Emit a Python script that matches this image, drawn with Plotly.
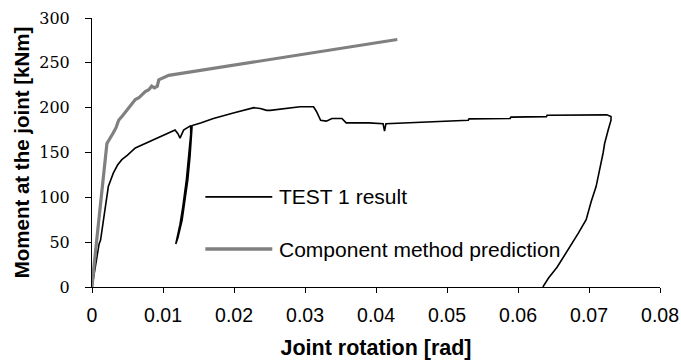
import plotly.graph_objects as go

# TEST 1 result (joint rotation [rad], moment [kNm])
test_rot = [0, 0.0005, 0.0010, 0.0012, 0.0016, 0.0020, 0.0023, 0.0030, 0.0036, 0.0042,
            0.0050, 0.0061, 0.0072, 0.0085, 0.0095, 0.0103, 0.0117, 0.0121, 0.0124, 0.0129,
            0.0135, 0.0139, 0.0139, 0.0137, 0.0133, 0.0128, 0.0124, 0.0118, 0.0121, 0.0127,
            0.0131, 0.0135, 0.0138, 0.0140, 0.0141, 0.0153, 0.0171, 0.0199, 0.0228, 0.0237,
            0.0246, 0.0251, 0.0272, 0.0293, 0.0312, 0.0316, 0.0322, 0.0330, 0.0338, 0.0352,
            0.0358, 0.0390, 0.0410, 0.0412, 0.0414, 0.0440, 0.0484, 0.0490, 0.0530, 0.0531,
            0.0589, 0.0590, 0.0640, 0.0641, 0.0700, 0.0715, 0.0725, 0.0731, 0.0731, 0.0727,
            0.0722, 0.0720, 0.0715, 0.0710, 0.0703, 0.0696, 0.0685, 0.0670, 0.0655, 0.0643,
            0.0635]
test_mom = [0, 25, 48, 52, 75, 95, 112, 127, 136, 142,
            147, 155, 159, 164, 167, 170, 175, 171, 166, 175,
            178, 180, 170, 150, 120, 90, 70, 48, 55, 75,
            95, 120, 145, 165, 180, 183, 188, 194, 200, 199,
            197, 197, 199, 201, 201, 196, 186, 185, 188, 188,
            183, 183, 182, 174, 182, 183, 184, 185, 186, 187.5,
            188, 189.5, 190, 191.5, 191.5, 192, 192, 190, 186, 175,
            160, 150, 130, 112, 95, 75, 60, 41, 22, 10,
            0]

# Component method prediction
comp_rot = [0, 0.0003, 0.0021, 0.0026, 0.0030, 0.0034, 0.00375, 0.0043, 0.0050, 0.0055,
            0.0061, 0.0066, 0.0070, 0.0075, 0.0080, 0.0084, 0.0088, 0.0092, 0.0094, 0.0100,
            0.0108, 0.0430]
comp_mom = [0, 25, 160, 166, 172, 178, 186, 191, 198, 203,
            209, 211, 214, 218, 220, 224, 222, 224, 231, 233,
            236, 276]

x_ticks = [0, 0.01, 0.02, 0.03, 0.04, 0.05, 0.06, 0.07, 0.08]
x_tick_text = ["0", "0.01", "0.02", "0.03", "0.04", "0.05", "0.06", "0.07", "0.08"]
y_ticks = [0, 50, 100, 150, 200, 250, 300]

series_names = ["TEST 1 result", "Component method prediction"]

SANS = "Liberation Sans, Arial, sans-serif"
SERIF = "DejaVu Serif"

fig = go.Figure()
fig.add_trace(go.Scatter(x=test_rot, y=test_mom, mode="lines", name=series_names[0],
                         line=dict(color="#000000", width=1.6), showlegend=False))
fig.add_trace(go.Scatter(x=comp_rot, y=comp_mom, mode="lines", name=series_names[1],
                         line=dict(color="#808080", width=3.2), showlegend=False))

# legend (keys drawn inside the plot area)
legend_rows = [(0.335, "#000000", 1.6), (0.141, "#808080", 3.4)]
for (yy, col, w), name in zip(legend_rows, series_names):
    fig.add_shape(type="line", xref="paper", yref="paper", x0=0.1995, x1=0.3174,
                  y0=yy, y1=yy, line=dict(color=col, width=w))
    fig.add_annotation(xref="paper", yref="paper", x=0.3257, y=yy, text=name,
                       showarrow=False, xanchor="left", yanchor="middle",
                       font=dict(family=SANS, size=21, color="#000"))

fig.update_layout(
    width=681, height=360,
    margin=dict(l=92, r=21, t=18, b=73, autoexpand=False),
    paper_bgcolor="white", plot_bgcolor="white",
    xaxis=dict(range=[0, 0.08], tickvals=x_ticks, ticktext=x_tick_text, automargin=False,
               showgrid=False, zeroline=False, showline=True, linecolor="black", linewidth=1,
               ticks="outside", ticklen=5, tickcolor="black", ticklabelstandoff=6,
               tickfont=dict(family=SANS, size=19.5, color="black"),
               title=dict(text="<b>Joint rotation [rad]</b>", standoff=16,
                          font=dict(family=SANS, size=21.5, color="black"))),
    yaxis=dict(range=[0, 300], tickvals=y_ticks, automargin=False,
               showgrid=False, zeroline=False, showline=True, linecolor="black", linewidth=1,
               ticks="outside", ticklen=6, tickcolor="black", ticklabelstandoff=12,
               tickfont=dict(family=SERIF, size=16, color="black"),
               title=dict(text="<b>Moment at the joint [kNm]</b>", standoff=4,
                          font=dict(family=SANS, size=20.5, color="black"))),
)

fig.write_html("out.html")
